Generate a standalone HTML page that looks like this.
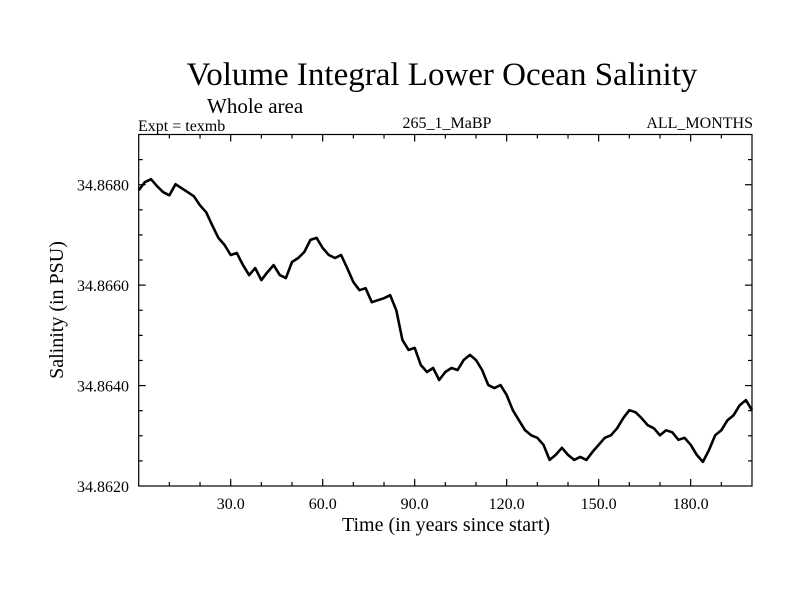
<!DOCTYPE html>
<html><head><meta charset="utf-8"><style>
body{margin:0;background:#fff}
svg text{font-family:"Liberation Serif",serif;fill:#000}
</style></head><body>
<svg width="800" height="600" viewBox="0 0 800 600">
<text x="442" y="85" font-size="33" text-anchor="middle">Volume Integral Lower Ocean Salinity</text>
<text x="207" y="113" font-size="21">Whole area</text>
<text x="138" y="131" font-size="16">Expt = texmb</text>
<text x="447" y="128" font-size="16" text-anchor="middle">265_1_MaBP</text>
<text x="753" y="128" font-size="16" text-anchor="end">ALL_MONTHS</text>
<g id="axes"></g>
<path id="line" fill="none" stroke="#000" stroke-width="2.6" stroke-linejoin="round"></path>
<rect x="138.7" y="134.5" width="613.3" height="351.5" fill="none" stroke="#000" stroke-width="1.2"/>
<text x="446" y="531" font-size="20" text-anchor="middle">Time (in years since start)</text>
<text x="0" y="0" font-size="20" text-anchor="middle" transform="translate(63,310) rotate(-90)">Salinity (in PSU)</text>
</svg>
<script>
const years = [];
for (let i = 0; i <= 200; i += 2) years.push(i);
const salinity = [34.86789,34.86805,34.86811,34.86797,34.86785,34.86779,34.86801,34.86793,34.86785,34.86777,
34.86759,34.86745,34.86719,34.86694,34.86680,34.86660,34.86664,34.86640,34.86620,34.86634,
34.86610,34.86626,34.86640,34.86620,34.86614,34.86646,34.86654,34.86666,34.86690,34.86694,
34.86674,34.86660,34.86654,34.86660,34.86634,34.86606,34.86590,34.86594,34.86566,34.86570,
34.86574,34.86580,34.86550,34.86491,34.86471,34.86475,34.86441,34.86427,34.86435,34.86411,
34.86427,34.86435,34.86431,34.86451,34.86461,34.86451,34.86431,34.86401,34.86395,34.86401,
34.86381,34.86351,34.86331,34.86311,34.86301,34.86296,34.86282,34.86252,34.86262,34.86276,
34.86262,34.86252,34.86258,34.86252,34.86268,34.86282,34.86296,34.86301,34.86315,34.86335,
34.86351,34.86347,34.86335,34.86321,34.86315,34.86301,34.86311,34.86307,34.86292,34.86296,
34.86282,34.86262,34.86248,34.86272,34.86301,34.86311,34.86331,34.86341,34.86361,34.86371,34.86351];
const xTicks = [30,60,90,120,150,180];
const xTickLabels = ["30.0","60.0","90.0","120.0","150.0","180.0"];
const yTicks = [34.862,34.864,34.866,34.868];
const yTickLabels = ["34.8620","34.8640","34.8660","34.8680"];
const X0=138.7,X1=752,Y0=486,Y1=134.5,xmin=0,xmax=200,ymin=34.862,ymax=34.869;
const sx=v=>X0+(v-xmin)/(xmax-xmin)*(X1-X0);
const sy=v=>Y0-(v-ymin)/(ymax-ymin)*(Y0-Y1);
const NS="http://www.w3.org/2000/svg";
const axes=document.getElementById('axes');
function line(x1,y1,x2,y2,name){const l=document.createElementNS(NS,'line');
l.setAttribute('x1',x1);l.setAttribute('y1',y1);l.setAttribute('x2',x2);l.setAttribute('y2',y2);
l.setAttribute('stroke','#000');l.setAttribute('stroke-width','1.2');


axes.appendChild(l);}
for(let t=10;t<200;t+=10){const big=t%30===0,len=big?7:4,x=sx(t);
line(x,Y0,x,Y0-len,'x-tick');line(x,Y1,x,Y1+len,'x-tick-top');}
for(let v=34.8625;v<34.869;v+=0.0005){const big=Math.abs(((v-34.862)/0.002)-Math.round((v-34.862)/0.002))<1e-6,len=big?7:4,y=sy(v);
line(X0,y,X0+len,y,'y-tick');line(X1,y,X1-len,y,'y-tick-right');}
xTicks.forEach((t,i)=>{const tx=document.createElementNS(NS,'text');
tx.setAttribute('x',sx(t));tx.setAttribute('y',509);tx.setAttribute('font-size','16');tx.setAttribute('text-anchor','middle');
tx.textContent=xTickLabels[i];


axes.appendChild(tx);});
yTicks.forEach((v,i)=>{const tx=document.createElementNS(NS,'text');
tx.setAttribute('x',129);tx.setAttribute('y',sy(v)+6);tx.setAttribute('font-size','16');tx.setAttribute('text-anchor','end');
tx.textContent=yTickLabels[i];


axes.appendChild(tx);});
document.getElementById('line').setAttribute('d',salinity.map((v,i)=>(i?'L':'M')+sx(years[i]).toFixed(1)+','+sy(v).toFixed(1)).join(''));
</script>
</body></html>
